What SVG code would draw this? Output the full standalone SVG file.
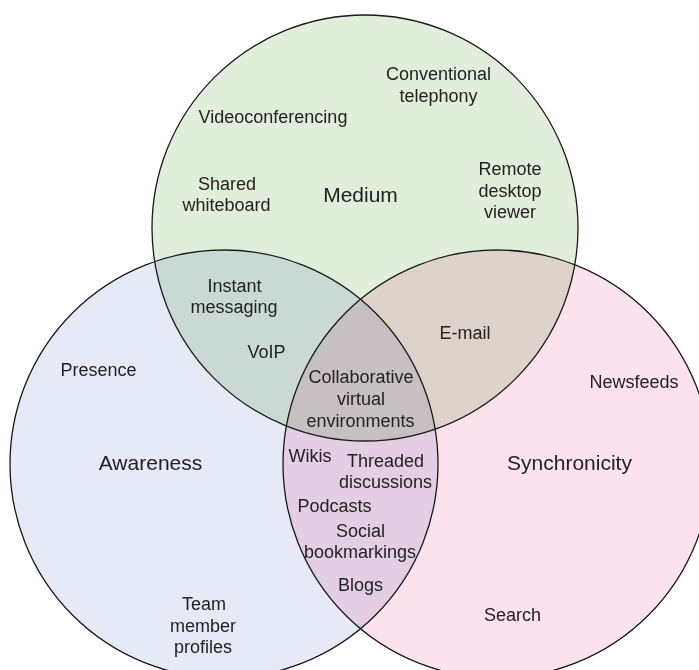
<svg xmlns="http://www.w3.org/2000/svg" width="699" height="670" viewBox="0 0 699 670">
  <style>
    .fill { stroke: none; mix-blend-mode: multiply; }
    .ring { fill: none; stroke: #1a1a1a; stroke-width: 1.3; }
    text { font-family: "Liberation Sans", Arial, sans-serif; font-size: 18px; fill: #222; text-anchor: middle; }
    .title { font-size: 21px; }
  </style>
  <rect width="699" height="670" fill="#ffffff"/>

  <!-- blended set fills -->
  <g id="fills" style="isolation:isolate">
    <circle class="fill" cx="365" cy="228" r="213" fill="#e0eedb"/>
    <circle class="fill" cx="224" cy="464" r="214" fill="#e6e9f6"/>
    <circle class="fill" cx="497" cy="464" r="214" fill="#fce2ec"/>
  </g>

  <!-- set outlines -->
  <g id="outlines">
    <circle class="ring" cx="365" cy="228" r="213"/>
    <circle class="ring" cx="224" cy="464" r="214"/>
    <circle class="ring" cx="497" cy="464" r="214"/>
  </g>

  <g id="medium">
    <text class="title" x="360.5" y="202">Medium</text>
    <text x="438.5" y="80">Conventional</text>
    <text x="438.5" y="101.5">telephony</text>
    <text x="273" y="123">Videoconferencing</text>
    <text x="227" y="189.5">Shared</text>
    <text x="226.5" y="211">whiteboard</text>
    <text x="510" y="175">Remote</text>
    <text x="510" y="196.5">desktop</text>
    <text x="510" y="218">viewer</text>
  </g>

  <g id="awareness">
    <text class="title" x="150.5" y="470">Awareness</text>
    <text x="98.5" y="376">Presence</text>
    <text x="204" y="610">Team</text>
    <text x="203" y="631.5">member</text>
    <text x="203" y="653">profiles</text>
  </g>

  <g id="synchronicity">
    <text class="title" x="569.5" y="470">Synchronicity</text>
    <text x="634" y="388">Newsfeeds</text>
    <text x="512.5" y="621">Search</text>
  </g>

  <g id="medium-awareness">
    <text x="234.5" y="291.5">Instant</text>
    <text x="234" y="313">messaging</text>
    <text x="266.5" y="358">VoIP</text>
  </g>

  <g id="medium-synchronicity">
    <text x="465" y="339">E-mail</text>
  </g>

  <g id="all-three">
    <text x="361" y="383">Collaborative</text>
    <text x="361" y="405">virtual</text>
    <text x="360.5" y="426.5">environments</text>
  </g>

  <g id="awareness-synchronicity">
    <text x="310" y="461.5">Wikis</text>
    <text x="385.5" y="466.5">Threaded</text>
    <text x="385.5" y="488">discussions</text>
    <text x="334.5" y="512">Podcasts</text>
    <text x="360.5" y="536.5">Social</text>
    <text x="360" y="557.5">bookmarkings</text>
    <text x="360.5" y="591">Blogs</text>
  </g>
</svg>
